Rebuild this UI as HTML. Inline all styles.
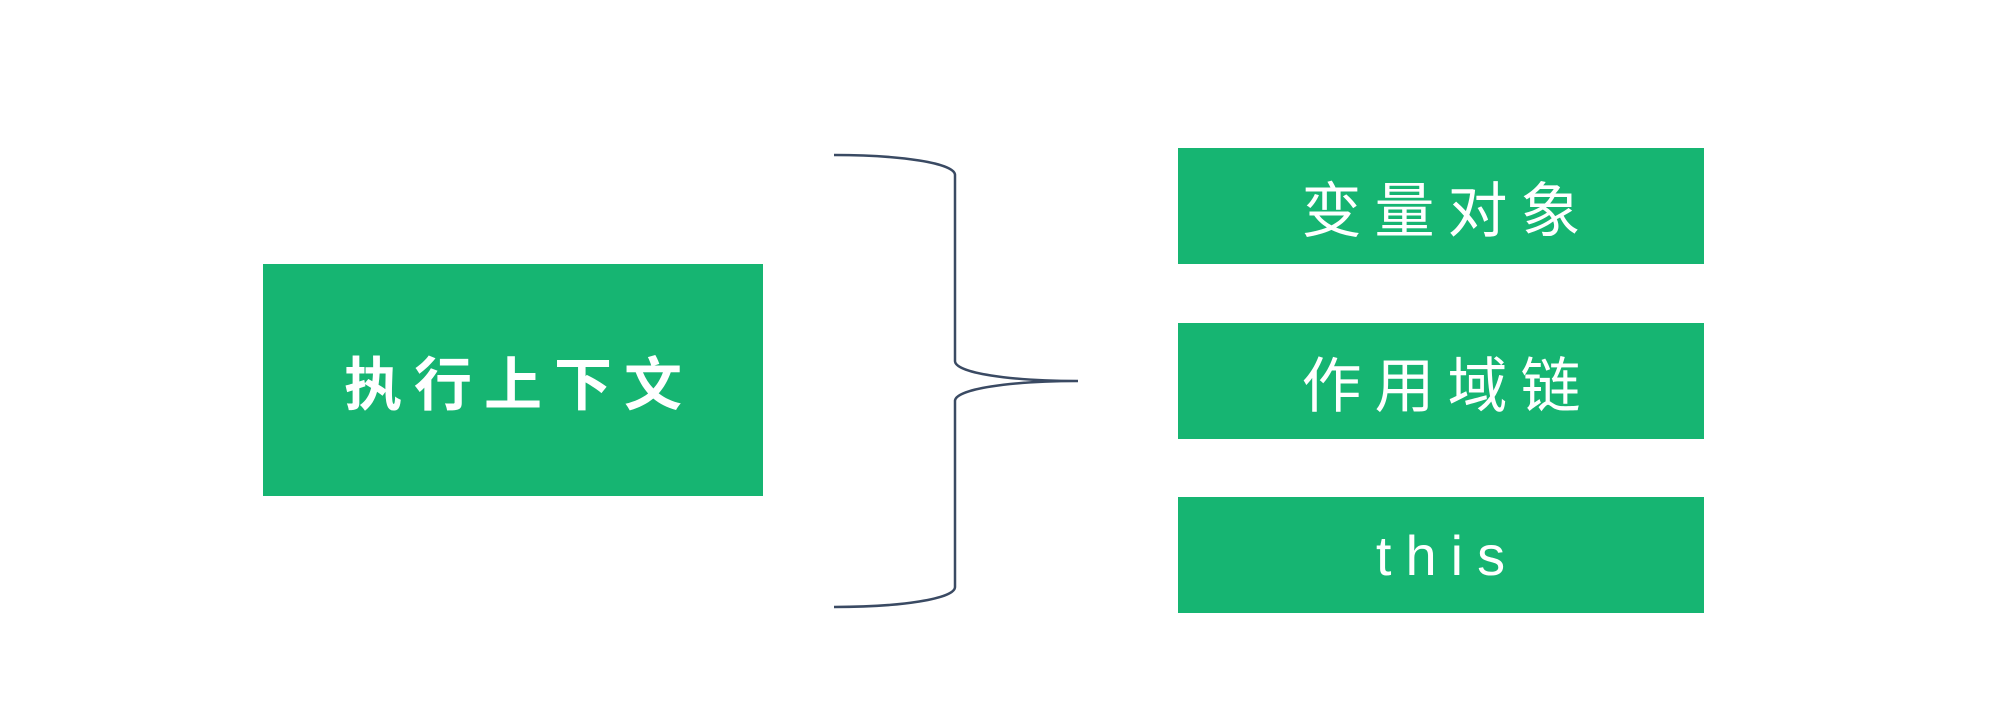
<!DOCTYPE html>
<html><head><meta charset="utf-8"><style>
body{margin:0;width:2000px;height:712px;background:#fff;position:relative;overflow:hidden;font-family:"Liberation Sans","Noto Sans CJK SC",sans-serif}
.b{position:absolute;background:#16b572;color:#fff;display:flex;align-items:center;justify-content:center}
.l{left:263px;top:264px;width:500px;height:232px;font-size:58px;font-weight:bold;letter-spacing:12px;padding-left:12px;box-sizing:border-box}
.r{left:1178px;width:526px;height:116px;font-size:60px;letter-spacing:13px;padding-left:13px;box-sizing:border-box}
</style></head><body>
<div class="b l">执行上下文</div>
<div class="b r" style="top:148px">变量对象</div>
<div class="b r" style="top:323px">作用域链</div>
<div class="b r" style="top:497px;letter-spacing:14px;font-size:56px">this</div>
<svg width="2000" height="712" style="position:absolute;left:0;top:0">
<path d="M834 155 C900 155 955 163 955 175 L955 361 C955 373 1010 381 1078 381 C1010 381 955 389 955 401 L955 587 C955 599 900 607 834 607" fill="none" stroke="#3a4a63" stroke-width="2.5"/>
</svg>
</body></html>
